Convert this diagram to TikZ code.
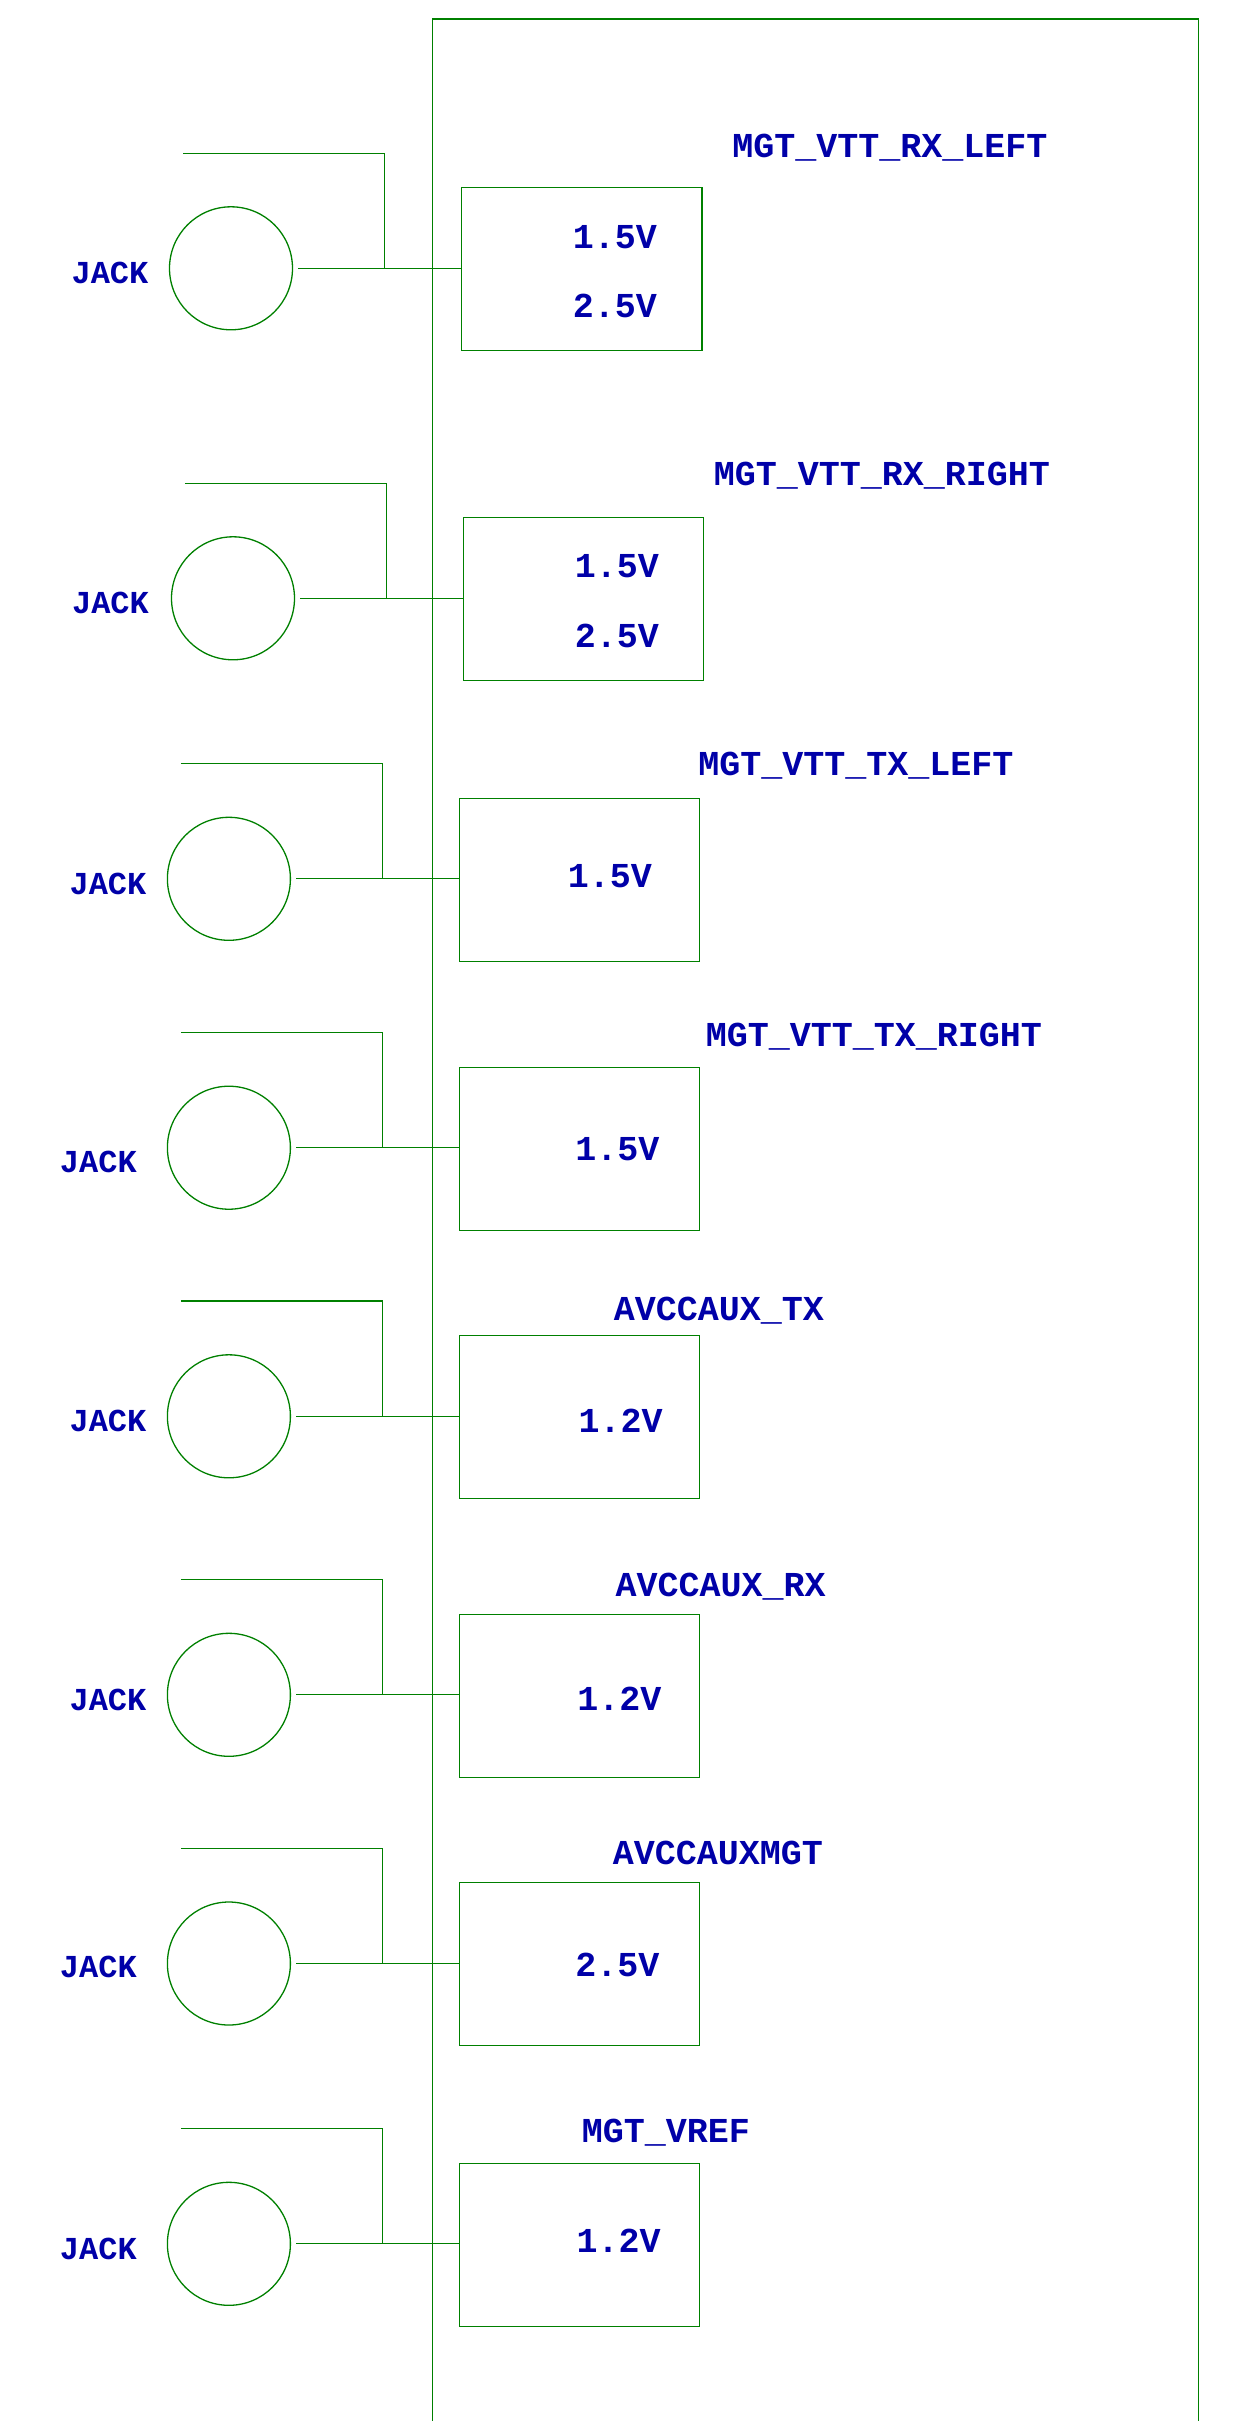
\documentclass[tikz,border=0pt]{standalone}
\usepackage{fontspec}
\usetikzlibrary{calc}
\newfontfamily\monob{Liberation Mono}
\definecolor{wgreen}{RGB}{0,128,0}
\definecolor{tblue}{RGB}{0,0,168}
\tikzset{
  wire/.style={draw=wgreen, line width=1.3pt},
  jackc/.style={circle, draw=wgreen, line width=1.3pt, minimum size=123pt, inner sep=0pt},
  vbox/.style={rectangle, draw=wgreen, line width=1.3pt, minimum width=240.3pt, minimum height=163pt, inner sep=0pt},
  railtxt/.style={text=tblue, font=\monob\bfseries\fontsize{35}{35}\selectfont, inner sep=0pt, anchor=base},
  volttxt/.style={text=tblue, font=\monob\bfseries\fontsize{35}{35}\selectfont, inner sep=0pt, anchor=base},
  jacktxt/.style={text=tblue, font=\monob\bfseries\fontsize{32}{32}\selectfont, inner sep=0pt, anchor=base}
}
\begin{document}
\begin{tikzpicture}[x=1pt,y=-1pt]
\useasboundingbox (0,0) rectangle (1243,2421);
% outer frame
\coordinate (fbl) at (432.3,2421);
\coordinate (ftl) at (432.3,19);
\coordinate (ftr) at (1198.5,19);
\coordinate (fbr) at (1198.5,2421);
\draw[wire, line width=1.1pt] (fbl) -- (ftl) -- (ftr) -- (fbr);

% group 1
\node[jackc] (c1) at (231,268.3) {};
\node[vbox] (b1) at (581.8,269.2) {};
\node[railtxt] (r1) at (890,157) {MGT\_VTT\_RX\_LEFT};
\node[volttxt] (v1a) at (615,248) {1.5V};
\node[volttxt] (v1b) at (615,317) {2.5V};
\node[jacktxt] (k1) at (110,283) {JACK};
\coordinate (s1) at ($(c1.east)+(5,0)$);
\coordinate (j1) at (384.7,268.3);
\coordinate (t1) at (384.7,153.3);
\coordinate (e1) at (183,153.3);
\draw[wire] (s1) -- (s1 -| b1.west);
\draw[wire] (e1) -- (t1) -- (j1);

% group 2
\node[jackc] (c2) at (233,598.3) {};
\node[vbox] (b2) at (583.4,599.3) {};
\node[railtxt] (r2) at (882,485.7) {MGT\_VTT\_RX\_RIGHT};
\node[volttxt] (v2a) at (617,577.7) {1.5V};
\node[volttxt] (v2b) at (617,647.7) {2.5V};
\node[jacktxt] (k2) at (110.5,613.3) {JACK};
\coordinate (s2) at ($(c2.east)+(5,0)$);
\coordinate (j2) at (386.3,598.7);
\coordinate (t2) at (386.3,483.3);
\coordinate (e2) at (184.8,483.3);
\draw[wire] (s2) -- (s2 -| b2.west);
\draw[wire] (e2) -- (t2) -- (j2);

% group 3
\node[jackc] (c3) at (228.9,878.8) {};
\node[vbox] (b3) at (579.5,879.7) {};
\node[railtxt] (r3) at (856,775.7) {MGT\_VTT\_TX\_LEFT};
\node[volttxt] (v3) at (610,887) {1.5V};
\node[jacktxt] (k3) at (108,894) {JACK};
\coordinate (s3) at ($(c3.east)+(5,0)$);
\coordinate (j3) at (382.3,878.7);
\coordinate (t3) at (382.3,763.7);
\coordinate (e3) at (180.9,763.7);
\draw[wire] (s3) -- (s3 -| b3.west);
\draw[wire] (e3) -- (t3) -- (j3);

% group 4
\node[jackc] (c4) at (228.9,1147.7) {};
\node[vbox] (b4) at (579.5,1148.7) {};
\node[railtxt] (r4) at (874,1046.7) {MGT\_VTT\_TX\_RIGHT};
\node[volttxt] (v4) at (617.5,1160.7) {1.5V};
\node[jacktxt] (k4) at (98.4,1172.3) {JACK};
\coordinate (s4) at ($(c4.east)+(5,0)$);
\coordinate (j4) at (382.3,1147.3);
\coordinate (t4) at (382.3,1032.3);
\coordinate (e4) at (180.9,1032.3);
\draw[wire] (s4) -- (s4 -| b4.west);
\draw[wire] (e4) -- (t4) -- (j4);

% group 5
\node[jackc] (c5) at (228.9,1416.3) {};
\node[vbox] (b5) at (579.5,1417.3) {};
\node[railtxt] (r5) at (719,1320.7) {AVCCAUX\_TX};
\node[volttxt] (v5) at (620.7,1432.7) {1.2V};
\node[jacktxt] (k5) at (108,1431) {JACK};
\coordinate (s5) at ($(c5.east)+(5,0)$);
\coordinate (j5) at (382.3,1416.3);
\coordinate (t5) at (382.3,1301);
\coordinate (e5) at (180.9,1301);
\draw[wire] (s5) -- (s5 -| b5.west);
\draw[wire] (e5) -- (t5) -- (j5);

% group 6
\node[jackc] (c6) at (228.9,1694.8) {};
\node[vbox] (b6) at (579.5,1695.7) {};
\node[railtxt] (r6) at (720.7,1596) {AVCCAUX\_RX};
\node[volttxt] (v6) at (619.5,1710.7) {1.2V};
\node[jacktxt] (k6) at (108,1710) {JACK};
\coordinate (s6) at ($(c6.east)+(5,0)$);
\coordinate (j6) at (382.3,1694.7);
\coordinate (t6) at (382.3,1579.7);
\coordinate (e6) at (180.9,1579.7);
\draw[wire] (s6) -- (s6 -| b6.west);
\draw[wire] (e6) -- (t6) -- (j6);

% group 7
\node[jackc] (c7) at (228.9,1963.5) {};
\node[vbox] (b7) at (579.5,1964.3) {};
\node[railtxt] (r7) at (717.9,1864.3) {AVCCAUXMGT};
\node[volttxt] (v7) at (617.5,1976) {2.5V};
\node[jacktxt] (k7) at (98.4,1977.7) {JACK};
\coordinate (s7) at ($(c7.east)+(5,0)$);
\coordinate (j7) at (382.3,1963.7);
\coordinate (t7) at (382.3,1848.3);
\coordinate (e7) at (180.9,1848.3);
\draw[wire] (s7) -- (s7 -| b7.west);
\draw[wire] (e7) -- (t7) -- (j7);

% group 8
\node[jackc] (c8) at (228.9,2243.8) {};
\node[vbox] (b8) at (579.5,2245) {};
\node[railtxt] (r8) at (666,2142.7) {MGT\_VREF};
\node[volttxt] (v8) at (618.7,2252.3) {1.2V};
\node[jacktxt] (k8) at (98.4,2259) {JACK};
\coordinate (s8) at ($(c8.east)+(5,0)$);
\coordinate (j8) at (382.3,2244);
\coordinate (t8) at (382.3,2128.7);
\coordinate (e8) at (180.9,2128.7);
\draw[wire] (s8) -- (s8 -| b8.west);
\draw[wire] (e8) -- (t8) -- (j8);
\end{tikzpicture}
\end{document}
